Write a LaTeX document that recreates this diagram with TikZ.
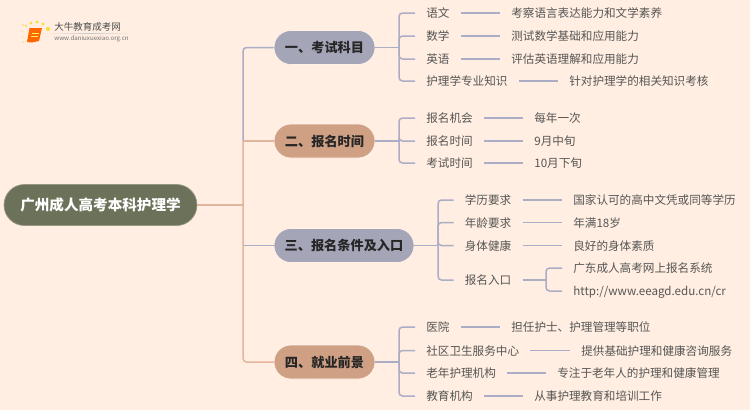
\documentclass[tikz,border=0pt]{standalone}
\usepackage{fontspec}
\setmainfont{Noto Sans CJK SC}
\definecolor{paper}{HTML}{FFEEE1}
\definecolor{rootc}{HTML}{6B7259}
\definecolor{greyc}{HTML}{A5A5B8}
\definecolor{orangec}{HTML}{D0A084}
\definecolor{greyl}{HTML}{ABADC6}
\definecolor{orangel}{HTML}{E2B59C}
\definecolor{inkc}{HTML}{555555}
\tikzset{
	rootn/.style={rectangle,rounded corners=11.6pt,fill=rootc,draw=rootc!70!paper,line width=.4pt,text=white,font=\fontsize{8.3}{10}\selectfont\bfseries,minimum width=3.86cm,minimum height=.82cm,inner sep=0pt},
	branchn/.style={rectangle,rounded corners=9.6pt,draw=paper!70!white,line width=.4pt,text=black!85,font=\fontsize{7.5}{9}\selectfont\bfseries,minimum height=.68cm,inner sep=0pt},
	leafn/.style={anchor=west,inner xsep=.22cm,inner ysep=1pt,text height=6pt,text depth=.8pt,text=inkc,font=\fontsize{6.6}{8}\selectfont},
	greylink/.style={greyl,line width=.85pt,rounded corners=2pt},
	orangelink/.style={orangel,line width=.85pt,rounded corners=2pt}
}
\begin{document}
\begin{tikzpicture}[x=.02cm,y=-.02cm,line join=round]
	\useasboundingbox[fill=paper] (0,0) rectangle (750,410);
	% logo
	\foreach \px/\py/\r in {23/25/.9,22/31/.7,26/26/1.1,31/23/1.5,37/22/1.6,43/24/1.7,48/29/2,23/37/.7,23.5/42/.6}
		\fill[yellow!75!orange,opacity=.8] (\px,\py) circle[radius=\r];
	\fill[orange!80!red] (29.5,28) -- (42,28) -- (39,41) -- (32,42.5) -- (27,42) -- cycle;
	\draw[yellow!60,line width=.4pt] (31.5,33) -- (38.5,33) (31,36) -- (38,36);
	\node[inner sep=0pt,anchor=west,text=black!70,font=\fontsize{5.4}{6}\selectfont] (logot) at (54,27) {大牛教育成考网};
	\shade[left color=paper,right color=paper,middle color=black!22] (47,33.2) rectangle (133,33.9);
	\node[inner sep=0pt,anchor=west,text=black!55,font=\fontsize{3.5}{4}\selectfont] (logou) at (54,39) {www.daniuxuexiao.org.cn};
	% centre and branches
	\node[rootn] (root) at (100.5,205) {广州成人高考本科护理学};
	\node[branchn,fill=greyc,minimum width=2.02cm] (b1) at (324.5,47.5) {一、考试科目};
	\node[branchn,fill=orangec,minimum width=2.02cm] (b2) at (324.5,141) {二、报名时间};
	\node[branchn,fill=greyc,minimum width=2.8cm] (b3) at (344,245.5) {三、报名条件及入口};
	\node[branchn,fill=orangec,minimum width=2.02cm] (b4) at (324.5,362) {四、就业前景};
	\coordinate (t1) at (243,141);
	\coordinate (t3) at (243,245.5);
	\coordinate (s1) at (399,47.5);
	\coordinate (s2) at (399,141);
	\coordinate (s3) at (438,245.5);
	\coordinate (s4) at (399,362);
	\coordinate (s5) at (546,280);
	\draw[greylink] (t1) |- (b1.west);
	\draw[greylink] (t3) -- (b3.west);
	\draw[orangelink] (root.east) -- (243,205);
	\draw[orangelink] (t1) -- (b2.west);
	\draw[orangelink] (t1) |- (b4.west);
	% leaves: name/y/label/detail x/detail
	\foreach \n/\sp/\bb/\lx/\ly/\lab/\dx/\det in {
		a1/s1/b1/415/13/语文/500/考察语言表达能力和文学素养,
		a2/s1/b1/415/36/数学/500/测试数学基础和应用能力,
		a3/s1/b1/415/59/英语/500/评估英语理解和应用能力,
		a4/s1/b1/415/81/护理学专业知识/558/针对护理学的相关知识考核,
		c1/s2/b2/415/118/报名机会/523/每年一次,
		c2/s2/b2/415/141/报名时间/523/9月中旬,
		c3/s2/b2/415/163/考试时间/523/10月下旬,
		e1/s3/b3/453.5/200/学历要求/562/国家认可的高中文凭或同等学历,
		e2/s3/b3/453.5/222.5/年龄要求/562/年满18岁,
		e3/s3/b3/453.5/245.5/身体健康/562/良好的身体素质,
		g1/s4/b4/415/327/医院/500/担任护士、护理管理等职位,
		g2/s4/b4/415/350.5/社区卫生服务中心/570/提供基础护理和健康咨询服务,
		g3/s4/b4/415/373/老年护理机构/546/专注于老年人的护理和健康管理,
		g4/s4/b4/415/396/教育机构/523/从事护理教育和培训工作}{
		\node[leafn] (\n) at (\lx,\ly) {\lab};
		\node[leafn] (\n d) at (\dx,\ly) {\det};
		\draw[greylink] (\bb.east) -- (\sp);
		\draw[greylink] (\sp) |- (\n.west);
		\draw[greylink] (\n.east) -- (\n d.west);
	}
	% the entry row splits in two
	\node[leafn] (e4) at (453.5,280) {报名入口};
	\node[leafn] (e5) at (562,268) {广东成人高考网上报名系统};
	\node[leafn] (e6) at (562,291) {http://www.eeagd.edu.cn/cr};
	\draw[greylink] (s3) |- (e4.west);
	\draw[greylink] (e4.east) -- (s5);
	\draw[greylink] (s5) |- (e5.west);
	\draw[greylink] (s5) |- (e6.west);
\end{tikzpicture}
\end{document}
